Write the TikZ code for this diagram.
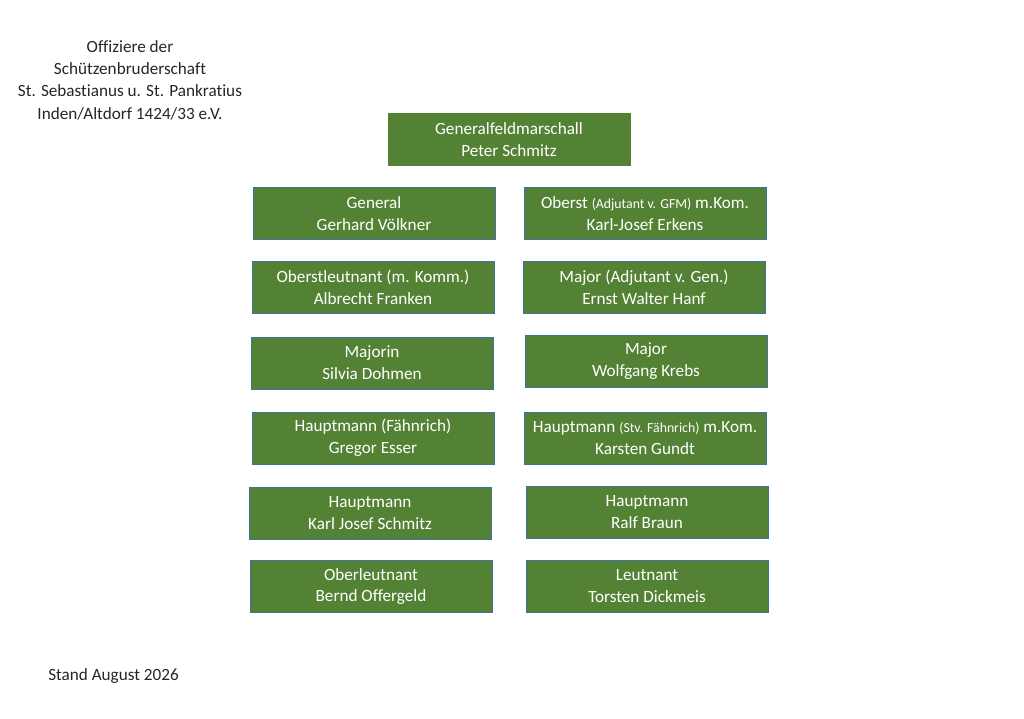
\documentclass[tikz,border=0pt]{standalone}
\usepackage{fontspec}
\setmainfont{Carlito}[Ligatures=NoCommon]
\usetikzlibrary{positioning}
\definecolor{rankgreen}{HTML}{548235}
\definecolor{rankedge}{HTML}{41719C}
\newcommand{\klein}[1]{{\fontsize{9.8}{12}\selectfont #1}}

\begin{document}
\begin{tikzpicture}[x=0.025cm,y=-0.025cm,
  rank/.style={draw=rankedge,line width=0.4pt,fill=rankgreen,text=white,align=center,
    minimum width=6.05cm,minimum height=1.3cm,inner sep=0pt,
    font=\fontsize{12.2}{15.6}\selectfont},
  plain/.style={align=center,text=black!85,font=\fontsize{12.2}{15.9}\selectfont}]
\useasboundingbox (0,0) rectangle (1024,718);
\node[plain] (titel) at (130,80) {Offiziere der\\Schützenbruderschaft\\St. Sebastianus u. St. Pankratius\\Inden/Altdorf 1424/33 e.V.};
\node[rank,draw=rankgreen] (gfm) at (509,139.5) {Generalfeldmarschall\\Peter Schmitz};
% linke Spalte
\node[rank] (general) at (374,213.5) {General\\Gerhard Völkner};
\node[rank] (oberstlt) at (373,287.5) {Oberstleutnant (m. Komm.)\\Albrecht Franken};
\node[rank] (majorin) at (372,363) {Majorin\\Silvia Dohmen};
\node[rank] (hptfaehn) at (373,438) {Hauptmann (Fähnrich)\\Gregor Esser};
\node[rank] (hptschmitz) at (370,513.5) {Hauptmann\\Karl Josef Schmitz};
\node[rank] (oblt) at (371,586.5) {Oberleutnant\\Bernd Offergeld};
% rechte Spalte
\node[rank] (oberst) at (645,213.5) {Oberst \klein{(Adjutant v. GFM)} m.Kom.\\Karl-Josef Erkens};
\node[rank] (major) at (644,287.5) {Major (Adjutant v. Gen.)\\Ernst Walter Hanf};
\node[rank] (majorkrebs) at (646,361.5) {Major\\Wolfgang Krebs};
\node[rank] (hptstv) at (645,438) {Hauptmann \klein{(Stv. Fähnrich)} m.Kom.\\Karsten Gundt};
\node[rank] (hptbraun) at (647,512) {Hauptmann\\Ralf Braun};
\node[rank] (lt) at (647,586.5) {Leutnant\\Torsten Dickmeis};
\node[plain,anchor=west,inner sep=0pt] (stand) at (48,676) {Stand August 2026};
\end{tikzpicture}
\end{document}
